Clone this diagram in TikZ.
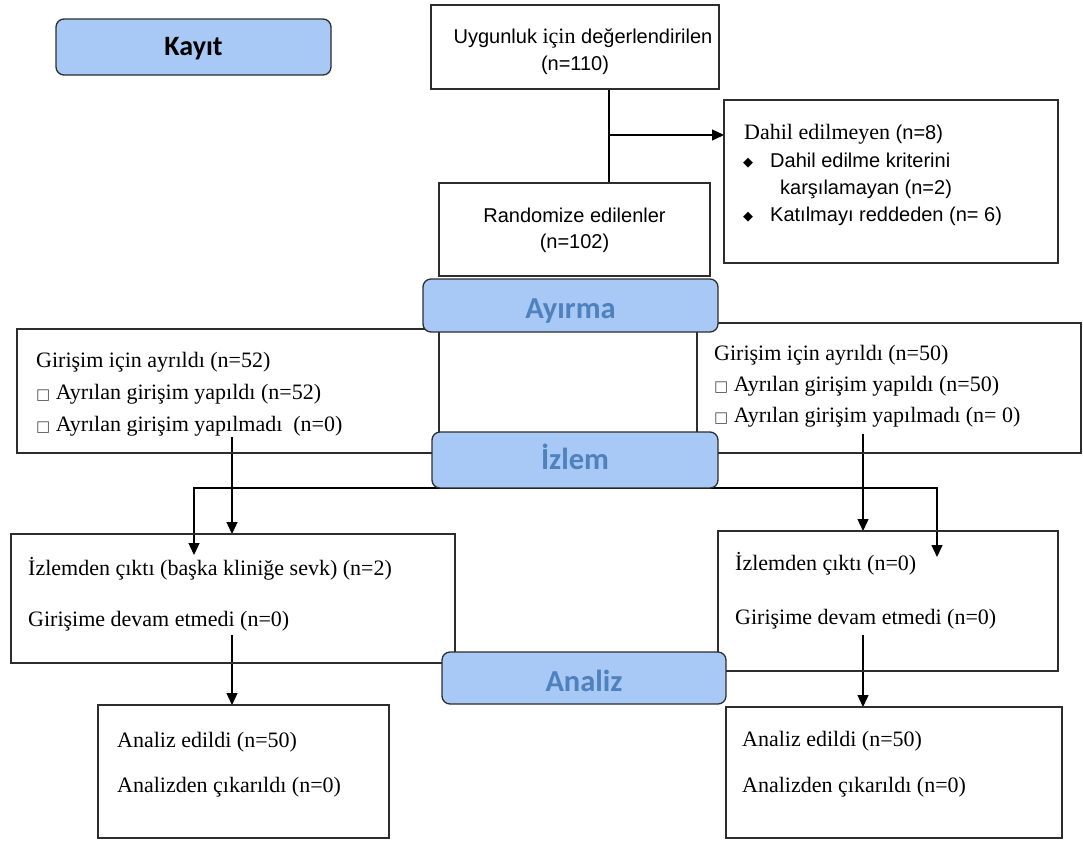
\documentclass[tikz,border=0pt]{standalone}
\usepackage{fontspec}
\setmainfont{Liberation Serif}
\newfontfamily\arialf{Liberation Sans}
\newfontfamily\calf{Carlito}
\newfontfamily\djf{DejaVu Sans}
\usetikzlibrary{arrows.meta}
\pgfdeclarelayer{background}
\pgfsetlayers{background,main}
\definecolor{bannerfill}{RGB}{168,200,246}
\definecolor{bannertext}{RGB}{79,129,189}
\definecolor{edge}{RGB}{45,45,45}
\newcommand\serf{\rmfamily\fontsize{22}{26}\selectfont}
\newcommand\sanf{\arialf\fontsize{20}{24}\selectfont}
\newcommand\sqbox{{\djf\fontsize{15}{17}\selectfont\color{black!70}□}}
\newcommand\diam{{\djf\fontsize{13}{15}\selectfont ◆}}
\newcommand\lowered[2]{\makebox[0pt]{\raisebox{-#1}[0pt][0pt]{#2}}}
\begin{document}
\begin{tikzpicture}[x=1pt,y=-1pt,
  box/.style={draw=edge, line width=1.3pt, inner sep=0pt, outer sep=0pt},
  banner/.style={draw=edge, line width=1.3pt, fill=bannerfill, rounded corners=8pt, inner sep=0pt, outer sep=0pt, font=\calf\bfseries\fontsize{30.5}{32}\selectfont, text=bannertext},
  txt/.style={anchor=base west, inner sep=0pt, font=\serf},
  stxt/.style={anchor=base west, inner sep=0pt, font=\sanf},
  ctxt/.style={anchor=base, inner sep=0pt, font=\sanf},
  conn/.style={draw=black, line width=1.3pt},
  arr/.style={conn, -{Triangle[width=11pt,length=12pt]}}]
\useasboundingbox (0,0) rectangle (1083,841);
\begin{pgfonlayer}{background}
\fill[white] (0,0) rectangle (1083,841);
\end{pgfonlayer}

% boxes
\node[box, minimum width=288pt, minimum height=84pt] (top) at (575,47) {};
\node[box, minimum width=271pt, minimum height=93pt] (rand) at (574.5,229.5) {};
\node[box, minimum width=334pt, minimum height=163pt] (excl) at (891,181.5) {};
\node[box, minimum width=422pt, minimum height=124pt] (allocL) at (228,391) {};
\node[box, minimum width=384pt, minimum height=130pt] (allocR) at (889,388) {};
\node[box, minimum width=444pt, minimum height=129pt] (followL) at (233,598.5) {};
\node[box, minimum width=340pt, minimum height=140pt] (followR) at (888,601) {};
\node[box, minimum width=291pt, minimum height=133pt] (anaL) at (243.5,771.5) {};
\node[box, minimum width=336pt, minimum height=131pt] (anaR) at (894,772.5) {};

% banners
\node[banner, minimum width=275pt, minimum height=56pt, text=black, font=\calf\bfseries\fontsize{28}{30}\selectfont] (kayit) at (193.5,47) {\lowered{8.5pt}{Kayıt}};
\node[banner, minimum width=295pt, minimum height=53pt] (ayirma) at (570.5,305.5) {\lowered{12.5pt}{Ayırma}};
\node[banner, minimum width=286pt, minimum height=56pt] (izlem) at (575,460) {\lowered{9pt}{İzlem}};
\node[banner, minimum width=284pt, minimum height=52pt] (analiz) at (584,678) {\lowered{13pt}{Analiz}};

% texts
\node[ctxt] (t1) at (583,43) {Uygunluk {\serf için} değerlendirilen};
\node[ctxt] (t2) at (575,70) {(n=110)};
\node[ctxt] (t3) at (574.5,222) {Randomize edilenler};
\node[ctxt] (t4) at (574.5,248) {(n=102)};

\node[txt] (e1) at (744,139) {Dahil edilmeyen {\sanf (n=8)}};
\node[anchor=base, inner sep=0pt] (b1) at (748,166) {\diam};
\node[stxt] (e2) at (770,167) {Dahil edilme kriterini};
\node[stxt] (e3) at (780,194) {karşılamayan (n=2)};
\node[anchor=base, inner sep=0pt] (b2) at (748,220) {\diam};
\node[stxt] (e4) at (770,221) {Katılmayı reddeden (n= 6)};

\node[txt] (l1) at (36,367) {Girişim için ayrıldı (n=52)};
\node[txt] (l2) at (36,399) {\sqbox\ Ayrılan girişim yapıldı (n=52)};
\node[txt] (l3) at (36,431) {\sqbox\ Ayrılan girişim yapılmadı\ \ (n=0)};

\node[txt] (r1) at (714,360) {Girişim için ayrıldı (n=50)};
\node[txt] (r2) at (714,391) {\sqbox\ Ayrılan girişim yapıldı (n=50)};
\node[txt] (r3) at (714,422) {\sqbox\ Ayrılan girişim yapılmadı (n= 0)};

\node[txt] (f1) at (28,575) {İzlemden çıktı (başka kliniğe sevk) (n=2)};
\node[txt] (f2) at (28,626) {Girişime devam etmedi (n=0)};
\node[txt] (g1) at (735,570) {İzlemden çıktı (n=0)};
\node[txt] (g2) at (735,624) {Girişime devam etmedi (n=0)};

\node[txt] (a1) at (117,747) {Analiz edildi (n=50)};
\node[txt] (a2) at (117,792) {Analizden çıkarıldı (n=0)};
\node[txt] (c1) at (742,746) {Analiz edildi (n=50)};
\node[txt] (c2) at (742,792) {Analizden çıkarıldı (n=0)};

% connectors
\coordinate (split) at (609,135);
\coordinate (lstart) at (232,437);
\coordinate (rstart) at (863,434);
\coordinate (ldrop) at (194,555);
\coordinate (rdrop) at (937,557);
\coordinate (lstart2) at (232,635);
\coordinate (rstart2) at (863,635);
\begin{pgfonlayer}{background}
\draw[conn] (top.south -| split) -- (rand.north -| split);
\draw[arr] (split) -- (excl.west |- split);
\draw[arr] (lstart) -- (followL.north -| lstart);
\draw[arr] (rstart) -- (followR.north -| rstart);
\draw[arr] (izlem.south) -| (ldrop);
\draw[arr] (izlem.south) -| (rdrop);
\draw[arr] (lstart2) -- (anaL.north -| lstart2);
\draw[arr] (rstart2) -- (anaR.north -| rstart2);
\end{pgfonlayer}
\end{tikzpicture}
\end{document}
